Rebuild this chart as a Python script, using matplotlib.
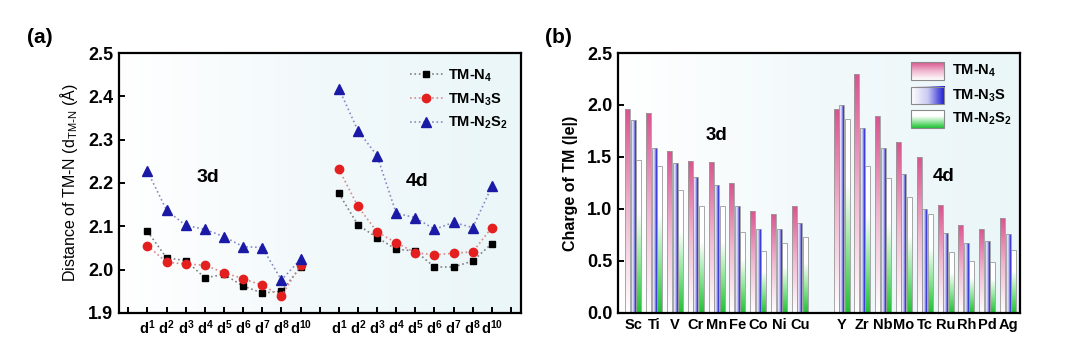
import numpy as np
import matplotlib
matplotlib.use('Agg')
import matplotlib.pyplot as plt
from matplotlib.colors import LinearSegmentedColormap
from matplotlib.patches import Rectangle

plt.rcParams['font.family'] = ['Liberation Sans', 'DejaVu Sans']
plt.rcParams['mathtext.default'] = 'regular'

# ---- panel (a): TM-N distance ----
d_labels = ['d$^{1}$', 'd$^{2}$', 'd$^{3}$', 'd$^{4}$', 'd$^{5}$',
            'd$^{6}$', 'd$^{7}$', 'd$^{8}$', 'd$^{10}$']
x3d = [1, 2, 3, 4, 5, 6, 7, 8, 9]
x4d = [11, 12, 13, 14, 15, 16, 17, 18, 19]

n4_3d = [2.088, 2.027, 2.021, 1.981, 1.989, 1.962, 1.946, 1.950, 2.006]
n3s_3d = [2.055, 2.017, 2.013, 2.010, 1.993, 1.979, 1.964, 1.939, 2.010]
n2s2_3d = [2.227, 2.137, 2.102, 2.093, 2.076, 2.053, 2.051, 1.976, 2.024]

n4_4d = [2.176, 2.103, 2.074, 2.047, 2.043, 2.006, 2.006, 2.020, 2.060]
n3s_4d = [2.232, 2.146, 2.087, 2.062, 2.039, 2.034, 2.038, 2.041, 2.097]
n2s2_4d = [2.418, 2.321, 2.263, 2.130, 2.120, 2.093, 2.109, 2.097, 2.192]

# ---- panel (b): charge of TM ----
elem_3d = ['Sc', 'Ti', 'V', 'Cr', 'Mn', 'Fe', 'Co', 'Ni', 'Cu']
elem_4d = ['Y', 'Zr', 'Nb', 'Mo', 'Tc', 'Ru', 'Rh', 'Pd', 'Ag']
q_n4 = [1.962, 1.927, 1.554, 1.465, 1.455, 1.245, 0.984, 0.955, 1.025,
        1.965, 2.296, 1.893, 1.640, 1.496, 1.036, 0.850, 0.812, 0.915]
q_n3s = [1.853, 1.589, 1.443, 1.306, 1.232, 1.025, 0.806, 0.806, 0.866,
         1.998, 1.780, 1.590, 1.336, 0.998, 0.767, 0.672, 0.690, 0.757]
q_n2s2 = [1.471, 1.417, 1.178, 1.025, 1.025, 0.774, 0.599, 0.669, 0.729,
          1.864, 1.418, 1.298, 1.115, 0.948, 0.582, 0.502, 0.489, 0.601]

labels = ['TM-N$_4$', 'TM-N$_3$S', 'TM-N$_2$S$_2$']

bg_cmap = LinearSegmentedColormap.from_list('bg', ['#ffffff', '#f2f9fb', '#eaf6f8'])
pink_cmap = LinearSegmentedColormap.from_list('pink', ['#ffffff', '#f0b8d0', '#d9558f'])
blue_cmap = LinearSegmentedColormap.from_list('blue', ['#ffffff', '#c9c9f2', '#1a1ad2'])
green_cmap = LinearSegmentedColormap.from_list('green', ['#22c136', '#8fe59a', '#ffffff', '#ffffff'])


def axes_background(ax):
    grad = np.linspace(0, 1, 256).reshape(1, -1)
    ax.imshow(grad, cmap=bg_cmap, extent=[0, 1, 0, 1], transform=ax.transAxes,
              aspect='auto', zorder=0)


def gradient_bars(ax, bars, cmap, horizontal=False):
    grad = np.linspace(0, 1, 64)
    img = grad.reshape(1, -1) if horizontal else grad.reshape(-1, 1)
    for b in bars:
        x, y = b.get_xy()
        w, h = b.get_width(), b.get_height()
        im = ax.imshow(img, cmap=cmap, extent=[x, x + w, y, y + h], origin='lower',
                       aspect='auto', zorder=2, interpolation='bilinear')
        im.set_clip_path(b)
        b.set_facecolor('none')


def style_spines(ax):
    for s in ax.spines.values():
        s.set_linewidth(1.6)
        s.set_zorder(5)


fig = plt.figure(figsize=(10.8, 3.42), dpi=100)
ax1 = fig.add_axes([0.110, 0.085, 0.372, 0.760])
ax2 = fig.add_axes([0.572, 0.085, 0.372, 0.760])

# ---------- (a) ----------
axes_background(ax1)
series = [
    (n4_3d, n4_4d, 's', '#000000', '#808080', 5),
    (n3s_3d, n3s_4d, 'o', '#e3201f', '#d88a8a', 6),
    (n2s2_3d, n2s2_4d, '^', '#1a1aa6', '#8a8ac4', 6.5),
]
for (v3, v4, mk, c, lc, ms), lab in zip(series, labels):
    ax1.plot(x3d, v3, linestyle=':', color=lc, lw=1.2, marker=mk, ms=ms,
             mfc=c, mec=c, zorder=3, label=lab)
    ax1.plot(x4d, v4, linestyle=':', color=lc, lw=1.2, marker=mk, ms=ms,
             mfc=c, mec=c, zorder=3)

ax1.set_xticks(range(0, 21))
tick_lab = [''] + d_labels + [''] + d_labels + ['']
ax1.set_xticklabels(tick_lab, fontsize=10.5, fontweight='bold')
ax1.set_yticks([1.9, 2.0, 2.1, 2.2, 2.3, 2.4, 2.5])
ax1.set_yticklabels(['1.9', '2.0', '2.1', '2.2', '2.3', '2.4', '2.5'],
                    fontsize=13, fontweight='bold')
ax1.tick_params(direction='in', length=4, width=1.4, pad=4)
ax1.set_ylabel(r'Distance of TM-N (d$_{TM\text{-}N}$ (Å)', fontsize=11.5, labelpad=6)
style_spines(ax1)
ax1.text(4.15, 2.213, '3d', fontsize=14, fontweight='bold', ha='center', va='center')
ax1.text(15.1, 2.204, '4d', fontsize=14, fontweight='bold', ha='center', va='center')
ax1.legend(loc='upper right', bbox_to_anchor=(1.0, 0.995), frameon=False,
           prop={'weight': 'bold', 'size': 10.5}, handlelength=2.3,
           handletextpad=0.3, labelspacing=0.5)

# ---------- (b) ----------
axes_background(ax2)
xb = np.array(list(range(0, 9)) + list(range(10, 19)), dtype=float)
w = 0.24
off = 0.265
b1 = ax2.bar(xb - off, q_n4, w, edgecolor='#9a9a9a', linewidth=0.6, zorder=3)
b2 = ax2.bar(xb, q_n3s, w, edgecolor='#9a9a9a', linewidth=0.6, zorder=3)
b3 = ax2.bar(xb + off, q_n2s2, w, edgecolor='#9a9a9a', linewidth=0.6, zorder=3)
gradient_bars(ax2, b1, pink_cmap)
gradient_bars(ax2, b2, blue_cmap, horizontal=True)
gradient_bars(ax2, b3, green_cmap)

ax2.set_xticks(xb)
ax2.set_xticklabels(elem_3d + elem_4d, fontsize=10.5, fontweight='bold')
ax2.set_yticks([0.0, 0.5, 1.0, 1.5, 2.0, 2.5])
ax2.set_yticklabels(['0.0', '0.5', '1.0', '1.5', '2.0', '2.5'],
                    fontsize=13, fontweight='bold')
ax2.tick_params(axis='y', direction='in', length=4, width=1.4, pad=4)
ax2.tick_params(axis='x', length=0, pad=4)
ax2.set_ylabel('Charge of TM (|e|)', fontsize=11.5, fontweight='bold', labelpad=6)
style_spines(ax2)
ax2.text(4.0, 1.71, '3d', fontsize=13.5, fontweight='bold', ha='center', va='center')
ax2.text(14.9, 1.31, '4d', fontsize=13.5, fontweight='bold', ha='center', va='center')

# legend with gradient swatches
leg_rows = [0.931, 0.837, 0.746]
leg_cmaps = [(pink_cmap, False), (blue_cmap, True), (green_cmap, False)]
gx0, gx1, gh = 0.729, 0.813, 0.068
for yc, (cm, hor), lab in zip(leg_rows, leg_cmaps, labels):
    grad = np.linspace(0, 1, 64)
    img = grad.reshape(1, -1) if hor else grad.reshape(-1, 1)
    ax2.imshow(img, cmap=cm, extent=[gx0, gx1, yc - gh / 2, yc + gh / 2],
               transform=ax2.transAxes, origin='lower', aspect='auto', zorder=4)
    ax2.add_patch(Rectangle((gx0, yc - gh / 2), gx1 - gx0, gh, transform=ax2.transAxes,
                            facecolor='none', edgecolor='#8a8a8a', lw=0.8, zorder=5))
    ax2.text(gx1 + 0.018, yc, lab, transform=ax2.transAxes, fontsize=10.5,
             fontweight='bold', va='center', ha='left', zorder=5)

# limits last, the imshow calls above touch the data limits
ax1.set_xlim(-0.5, 20.5)
ax1.set_ylim(1.9, 2.5)
ax2.set_xlim(-0.75, 18.55)
ax2.set_ylim(0, 2.5)

fig.text(0.025, 0.875, '(a)', fontsize=15, fontweight='bold')
fig.text(0.505, 0.875, '(b)', fontsize=15, fontweight='bold')

fig.savefig('out.png', dpi=100)
